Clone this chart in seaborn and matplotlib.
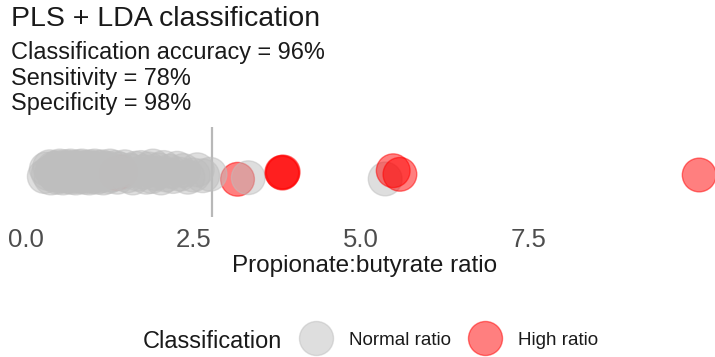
import matplotlib
matplotlib.use("Agg")
import matplotlib.pyplot as plt
from matplotlib.lines import Line2D
import seaborn as sns
import pandas as pd

# ---- data ----
title = "PLS + LDA classification"
subtitle_lines = ["Classification accuracy = 96%", "Sensitivity = 78%", "Specificity = 98%"]
x_label = "Propionate:butyrate ratio"
legend_title = "Classification"
class_labels = ["Normal ratio", "High ratio"]
x_ticks = [0.0, 2.5, 5.0, 7.5]
threshold = 2.78

normal_x = [0.28, 0.31, 0.34, 0.36, 0.38, 0.40, 0.42, 0.44, 0.45, 0.47,
            0.48, 0.50, 0.51, 0.53, 0.54, 0.56, 0.57, 0.59, 0.60, 0.62,
            0.63, 0.64, 0.66, 0.67, 0.68, 0.70, 0.71, 0.72, 0.74, 0.75,
            0.76, 0.78, 0.79, 0.80, 0.82, 0.83, 0.84, 0.86, 0.87, 0.88,
            0.90, 0.91, 0.92, 0.94, 0.95, 0.96, 0.98, 0.99, 1.00, 1.02,
            1.03, 1.04, 1.06, 1.07, 1.08, 1.10, 1.11, 1.13, 1.14, 1.16,
            1.18, 1.20, 1.22, 1.24, 1.26, 1.29, 1.31, 1.34, 1.37, 1.40,
            1.44, 1.48, 1.52, 1.56, 1.60, 1.64, 1.68, 1.72, 1.76, 1.80,
            1.84, 1.88, 1.90, 1.94, 1.98, 2.02, 2.06, 2.10, 2.15, 2.20,
            2.26, 2.30, 2.35, 2.42, 2.50, 2.56, 2.64, 2.75,
            3.32, 5.36]
normal_y = [-0.06, 0.04, -0.02, 0.07, -0.08, 0.01, 0.05, -0.04, 0.03, -0.07,
            0.06, -0.01, 0.08, -0.05, 0.02, -0.08, 0.04, -0.03, 0.07, 0.00,
            -0.06, 0.05, -0.02, 0.08, -0.07, 0.03, -0.04, 0.06, 0.01, -0.08,
            0.05, -0.03, 0.07, -0.06, 0.02, -0.01, 0.08, -0.05, 0.04, -0.07,
            0.00, 0.06, -0.04, 0.03, -0.08, 0.07, -0.02, 0.05, -0.06, 0.01,
            0.08, -0.03, 0.04, -0.07, 0.02, 0.06, -0.05, 0.00, 0.07, -0.08,
            0.03, -0.02, 0.05, -0.06, 0.08, -0.04, 0.01, 0.06, -0.07, 0.04,
            -0.01, 0.07, -0.05, 0.02, -0.08, 0.05, -0.03, 0.06, 0.00, -0.07,
            0.04, -0.06, 0.08, -0.02, 0.03, -0.08, 0.06, -0.04, 0.01, -0.06,
            0.05, -0.03, 0.02, -0.07, -0.04, 0.03, -0.05, -0.03,
            -0.076, -0.093]

high_x = [1.35, 1.42, 3.16, 3.82, 3.83, 3.84, 5.48, 5.58, 10.04]
high_y = [-0.02, 0.00, -0.097, -0.005, -0.015, 0.0, 0.017, -0.031, -0.04]

normal_df = pd.DataFrame({"ratio": normal_x, "jit": normal_y, "cls": class_labels[0]})
high_df = pd.DataFrame({"ratio": high_x, "jit": high_y, "cls": class_labels[1]})

colors = {"Normal ratio": "#BEBEBE", "High ratio": "#FF0000"}

# ---- figure ----
sns.set_theme(style="white")
plt.rcParams["font.family"] = ["Liberation Sans", "DejaVu Sans"]
plt.rcParams["text.color"] = "#1A1A1A"

fig = plt.figure(figsize=(7.15, 3.57), dpi=100)
W, H = 715, 357
ax_bottom_px, ax_top_px = 217, 127
ax = fig.add_axes([0, (H - ax_bottom_px) / H, 1, (ax_bottom_px - ax_top_px) / H])

ax.axvline(threshold, color="#B8B8B8", lw=1.6, zorder=1)

pt_size = 590
layers = [high_df[high_df.ratio < 3.3], normal_df, high_df[high_df.ratio >= 3.3]]
for layer in layers:
    sns.scatterplot(data=layer, x="ratio", y="jit", hue="cls", palette=colors,
                    s=pt_size, alpha=0.5, linewidth=1.0, edgecolor=None,
                    legend=False, ax=ax, zorder=2)
for coll in ax.collections:
    coll.set_edgecolor(coll.get_facecolor())

x0_px, px_per_unit = 25.5, 67.1
ax.set_xlim(-x0_px / px_per_unit, (W - x0_px) / px_per_unit)
ax.set_ylim(-0.6, 0.6)
ax.set_yticks([])
ax.set_xticks(x_ticks)
ax.set_xticklabels([f"{t:.1f}" for t in x_ticks])
ax.tick_params(axis="x", length=0, pad=8.0, labelsize=18.5, labelcolor="#4D4D4D")
for sp in ax.spines.values():
    sp.set_visible(False)
ax.grid(False)
ax.set_ylabel("")
ax.set_xlabel(x_label, fontsize=17.5, color="#1A1A1A")
ax.xaxis.set_label_coords(365 / W, -(255 - ax_bottom_px) / (ax_bottom_px - ax_top_px))

# titles
fig.text(11.5 / W, 1 - 25.7 / H, title, fontsize=20.5, va="baseline", ha="left")
for line, base in zip(subtitle_lines, [59, 84.5, 110]):
    fig.text(11.5 / W, 1 - base / H, line, fontsize=16.9, va="baseline", ha="left")

# legend
fig.text(143 / W, 1 - 341 / H, legend_title, fontsize=16.9, va="center", ha="left")
handles = [Line2D([], [], linestyle="", marker="o", markersize=24.5,
                  markerfacecolor=colors[c], markeredgecolor=colors[c],
                  markeredgewidth=1.0, alpha=0.5) for c in class_labels]
fig.legend(handles, class_labels, loc="center left",
           bbox_to_anchor=(306.3 / W, 1 - 340 / H), ncol=2, frameon=False,
           fontsize=13.5, handlelength=1.0, handletextpad=1.28,
           columnspacing=1.31, borderpad=0, borderaxespad=0)

fig.savefig("out.png", dpi=100)
